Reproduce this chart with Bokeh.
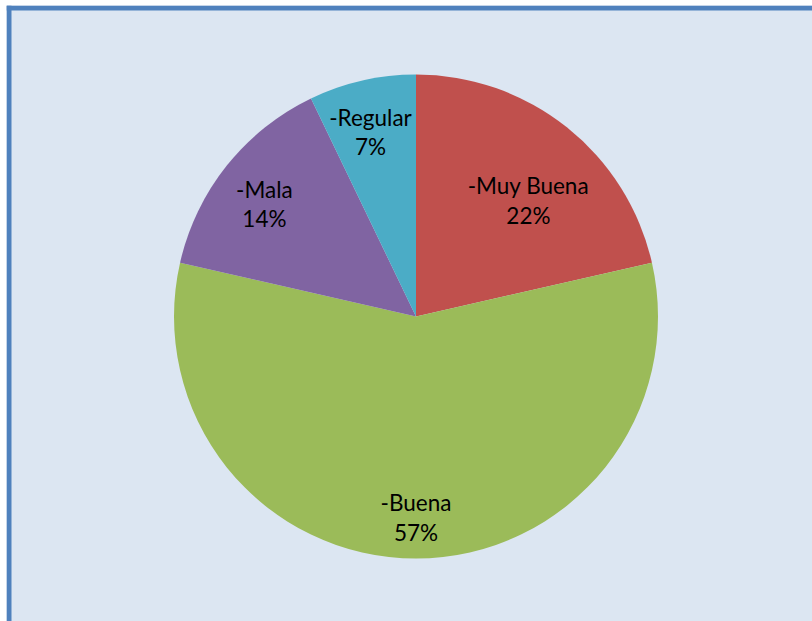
import math
from bokeh.plotting import figure
from bokeh.models import ColumnDataSource, Span
from bokeh.core.properties import value
from bokeh.embed import file_html
from bokeh.resources import INLINE

categories = ["-Muy Buena", "-Buena", "-Mala", "-Regular"]
counts = [3, 8, 2, 1]
colors = ["#c0504d", "#9bbb59", "#8064a2", "#4bacc6"]
label_radius = [0.668, 0.83, 0.78, 0.785]
label_shift_deg = [5.5, 0.0, -2.0, -1.0]

# percentages rounded with largest remainder (as shown in the chart)
total = sum(counts)
raw = [c * 100.0 / total for c in counts]
pct = [math.floor(r) for r in raw]
rest = 100 - sum(pct)
order = sorted(range(len(raw)), key=lambda i: raw[i] - pct[i], reverse=True)
for i in order[:rest]:
    pct[i] += 1

W, H = 812, 621
BL, BT = 6, 5
FW, FH = W - BL, H - BT
CX, CY, R = 415.5 - BL, FH - (316 - BT), 242

starts, ends, lx, ly, texts = [], [], [], [], []
cum = 0.0
for i, c in enumerate(counts):
    a0 = math.pi / 2 - 2 * math.pi * cum / total
    cum += c
    a1 = math.pi / 2 - 2 * math.pi * cum / total
    starts.append(a0)
    ends.append(a1)
    mid = (a0 + a1) / 2 - math.radians(label_shift_deg[i])
    lx.append(CX + R * label_radius[i] * math.cos(mid))
    ly.append(CY + R * label_radius[i] * math.sin(mid))
    texts.append(f"{categories[i]}\n{pct[i]}%")

src = ColumnDataSource(dict(start=starts, end=ends, color=colors,
                            lx=lx, ly=ly, text=texts))

p = figure(width=W, height=H, output_backend="svg", toolbar_location=None,
           x_range=(0, FW), y_range=(0, FH), x_axis_type=None, y_axis_type=None,
           min_border_left=BL, min_border_top=BT, min_border_right=0,
           min_border_bottom=0, background_fill_color="#dce6f2",
           border_fill_color="#ffffff", outline_line_color=None)
p.grid.visible = False

# chart-area frame (left and top edges visible)
p.add_layout(Span(location=2.5, dimension="height", line_color="#4f81bd", line_width=5))
p.add_layout(Span(location=FH - 2.5, dimension="width", line_color="#4f81bd", line_width=5))

p.wedge(x=CX, y=CY, radius=R, start_angle="start", end_angle="end",
        direction="clock", fill_color="color", line_color=None, source=src)
p.text(x="lx", y="ly", text="text", source=src, text_align="center",
       text_baseline="middle", text_font=value("Lato"), text_font_size="22.5px",
       text_color="#000000", text_line_height=1.09)

open("out.html", "w").write(file_html(p, INLINE))
